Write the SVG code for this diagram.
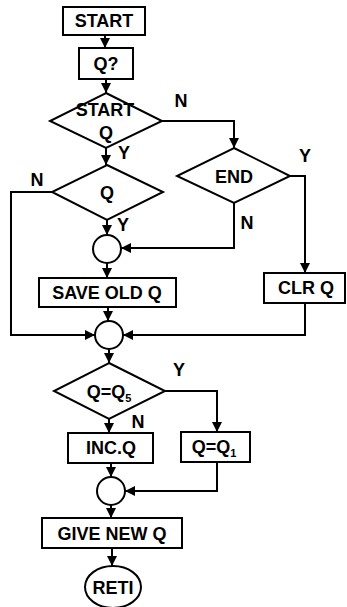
<svg xmlns="http://www.w3.org/2000/svg" width="347" height="607" viewBox="0 0 347 607">
<defs>
<style>
.s{fill:#fff;stroke:#000;stroke-width:2}
.t{font-family:"Liberation Sans",Arial,sans-serif;font-weight:bold;font-size:18px;fill:#000;text-anchor:middle}
.l{font-family:"Liberation Sans",Arial,sans-serif;font-weight:bold;font-size:18px;fill:#000;text-anchor:middle}
.c{fill:none;stroke:#000;stroke-width:2;marker-end:url(#a)}
</style>
<marker id="a" viewBox="0 0 10 10" refX="10" refY="5" markerWidth="5" markerHeight="5" markerUnits="strokeWidth" orient="auto">
<path d="M0,0 L10,5 L0,10 z" fill="#000"/>
</marker>
</defs>
<rect width="347" height="607" fill="#fff"/>
<g id="connectors">
<path class="c" d="M105,35 V48"/>
<path class="c" d="M106,79 V93"/>
<path class="c" d="M106,148 V165"/>
<path class="c" d="M162,121 H234 V148"/>
<path class="c" d="M290,176 H305 V273"/>
<path class="c" d="M234,203 V248 H121"/>
<path class="c" d="M107,220 V235"/>
<path class="c" d="M52,192 H11 V335 H95"/>
<path class="c" d="M107,263 V278"/>
<path class="c" d="M108,307 V321"/>
<path class="c" d="M305,303 V335 H123"/>
<path class="c" d="M109,349 V363"/>
<path class="c" d="M165,391 H217 V432"/>
<path class="c" d="M109,419 V433"/>
<path class="c" d="M111,463 V477"/>
<path class="c" d="M217,462 V491 H125"/>
<path class="c" d="M111,505 V518"/>
<path class="c" d="M112,548 V566"/>
<text class="l" x="124" y="159">Y</text>
<text class="l" x="181" y="107">N</text>
<text class="l" x="305" y="162">Y</text>
<text class="l" x="247" y="229">N</text>
<text class="l" x="123" y="231">Y</text>
<text class="l" x="37" y="186">N</text>
<text class="l" x="179" y="376">Y</text>
<text class="l" x="138" y="428">N</text>
</g>
<g id="start"><rect class="s" x="63" y="7" width="82" height="28"/><text class="t" x="104" y="27">START</text></g>
<g id="qq"><rect class="s" x="79" y="48" width="54" height="31"/><text class="t" x="106" y="70">Q?</text></g>
<g id="startq"><path class="s" d="M106,93 L162,121 L106,148 L50,121 Z"/><text class="t" x="105" y="116">START</text><text class="t" x="106" y="139">Q</text></g>
<g id="q"><path class="s" d="M107,165 L163,192 L107,220 L52,192 Z"/><text class="t" x="107" y="199">Q</text></g>
<g id="end"><path class="s" d="M234,148 L290,176 L234,203 L177,176 Z"/><text class="t" x="234" y="183">END</text></g>
<g id="c1"><circle class="s" cx="107" cy="249" r="14"/></g>
<g id="save"><rect class="s" x="39" y="278" width="137" height="29"/><text class="t" x="107" y="299">SAVE OLD Q</text></g>
<g id="clr"><rect class="s" x="264" y="273" width="81" height="30"/><text class="t" x="306" y="294">CLR Q</text></g>
<g id="c2"><circle class="s" cx="109" cy="335" r="14"/></g>
<g id="q5"><path class="s" d="M109,363 L165,391 L109,419 L54,391 Z"/><text class="t" x="109" y="398">Q=Q<tspan font-size="11" dy="4">5</tspan></text></g>
<g id="inc"><rect class="s" x="68" y="433" width="85" height="30"/><text class="t" x="111" y="454">INC.Q</text></g>
<g id="q1"><rect class="s" x="181" y="432" width="69" height="30"/><text class="t" x="214" y="453">Q=Q<tspan font-size="11" dy="4">1</tspan></text></g>
<g id="c3"><circle class="s" cx="111" cy="491" r="14"/></g>
<g id="give"><rect class="s" x="42" y="518" width="140" height="30"/><text class="t" x="112" y="540">GIVE NEW Q</text></g>
<g id="reti"><ellipse class="s" cx="113" cy="587" rx="28" ry="21"/><text class="t" x="113" y="594">RETI</text></g>
</svg>
